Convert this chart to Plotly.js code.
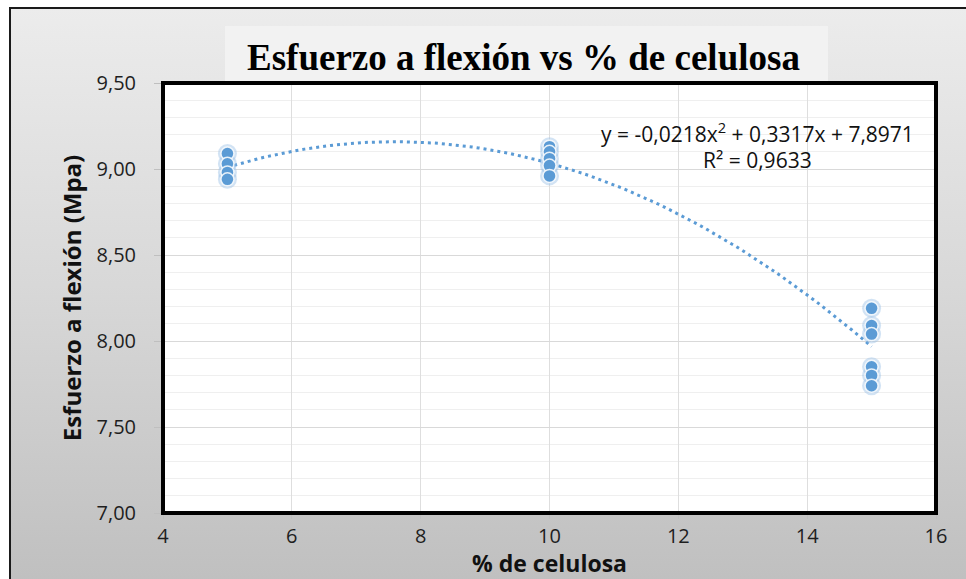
<!DOCTYPE html>
<html><head><meta charset="utf-8">
<script src="https://cdn.plot.ly/plotly-3.0.1.min.js"></script>
<style>
html,body{margin:0;padding:0;background:#fff;}
#wrap{position:relative;width:966px;height:579px;overflow:hidden;}
#bg{position:absolute;left:10px;top:8px;width:970px;height:580px;background:linear-gradient(to bottom,#ececec 0%,#d7d7d7 50%,#bfbfbf 100%);}
#chart{position:absolute;left:0;top:0;width:966px;height:579px;}
</style></head><body>
<div id="wrap"><div id="bg"></div><div id="chart"></div></div>
<script>
const celulosa = [5,5,5,5, 10,10,10,10,10, 15,15,15,15,15,15];
const esfuerzo = [9.09,9.03,8.98,8.94, 9.13,9.10,9.06,9.02,8.96, 8.19,8.09,8.04,7.85,7.80,7.74];
const trendCoef = [-0.0218, 0.3317, 7.8971];
const trendRange = [5, 15];
const xTicks = [4,6,8,10,12,14,16];
const titleText = 'Esfuerzo a flexión vs % de celulosa';
const xTitle = '% de celulosa';
const yTitle = 'Esfuerzo a flexión (Mpa)';
const eqLine1 = 'y = -0,0218x<sup>2</sup> + 0,3317x + 7,8971';
const eqLine2 = 'R² = 0,9633';

// trendline from the displayed polynomial coefficients
const tx = [], ty = [];
for (let i = 0; i <= 100; i++) {
  const x = trendRange[0] + (trendRange[1] - trendRange[0]) * i / 100;
  tx.push(x);
  ty.push(trendCoef[0]*x*x + trendCoef[1]*x + trendCoef[2]);
}

const L = 163, R = 30, T = 83, B = 66, W = 966, H = 579;
const pw = W - L - R, ph = H - T - B;
const px = v => (v - L) / pw;
const py = v => (H - B - v) / ph;

const data = [
  {x: tx, y: ty, mode: 'lines', line: {color: '#5b9bd5', width: 3, dash: '3px,4px'}, hoverinfo: 'skip', showlegend: false},
  {x: celulosa, y: esfuerzo, mode: 'markers', marker: {size: 19, color: 'rgba(155,194,230,0.45)', line: {width: 0}}, hoverinfo: 'skip', showlegend: false},
  {x: celulosa, y: esfuerzo, mode: 'markers', marker: {size: 13, color: '#5b9bd5', line: {color: 'rgba(255,255,255,0.85)', width: 1.5}}, showlegend: false}
];

const layout = {
  width: W, height: H,
  margin: {l: L, r: R, t: T, b: B},
  paper_bgcolor: 'rgba(0,0,0,0)',
  plot_bgcolor: '#ffffff',
  separators: ',.',
  showlegend: false,
  font: {family: 'Open Sans, sans-serif', color: '#262626'},
  xaxis: {
    range: [4, 16], tickvals: xTicks, showgrid: true, gridcolor: '#dedede', gridwidth: 1,
    zeroline: false, showline: false, ticks: 'outside', ticklen: 5, tickcolor: '#bfbfbf',
    tickfont: {family: 'Open Sans, sans-serif', size: 20, color: '#1e1e1e'},
    title: {text: xTitle, font: {family: 'Open Sans, sans-serif', size: 23, weight: 'bold', color: '#111'}, standoff: 3}
  },
  yaxis: {
    range: [7, 9.5], tick0: 7, dtick: 0.5, tickformat: '.2f', showgrid: true, gridcolor: '#d9d9d9',
    minor: {dtick: 0.1, showgrid: true, gridcolor: '#efefef', ticks: ''},
    zeroline: false, showline: false, ticks: 'outside', ticklen: 8, tickcolor: '#bfbfbf',
    ticklabelstandoff: 14,
    tickfont: {family: 'Open Sans, sans-serif', size: 20, color: '#1e1e1e'},
    title: {text: yTitle, font: {family: 'Open Sans, sans-serif', size: 24, weight: 'bold', color: '#111'}, standoff: 8}
  },
  shapes: [
    {type: 'rect', xref: 'paper', yref: 'paper', x0: px(225), x1: px(828), y0: py(83), y1: py(26), fillcolor: '#f2f2f2', line: {width: 0}, layer: 'below'},
    {type: 'rect', xref: 'paper', yref: 'paper', x0: 0, x1: 1, y0: 0, y1: 1, line: {color: '#000', width: 4}},
    {type: 'rect', xref: 'paper', yref: 'paper', x0: px(10), x1: px(990), y0: py(600), y1: py(8), line: {color: '#1a1a1a', width: 2}}
  ],
  annotations: [
    {text: '<b>' + titleText + '</b>', xref: 'paper', yref: 'paper', x: px(523), y: py(57), xanchor: 'center', yanchor: 'middle', showarrow: false,
     font: {family: 'Liberation Serif, Times New Roman, serif', size: 37, color: '#000'}},
    {text: eqLine1, xref: 'paper', yref: 'paper', x: px(757), y: py(132), xanchor: 'center', yanchor: 'middle', showarrow: false,
     font: {family: 'Open Sans, sans-serif', size: 21, color: '#111'}},
    {text: eqLine2, xref: 'paper', yref: 'paper', x: px(757), y: py(160), xanchor: 'center', yanchor: 'middle', showarrow: false,
     font: {family: 'Open Sans, sans-serif', size: 21, color: '#111'}}
  ]
};

Plotly.newPlot('chart', data, layout, {displayModeBar: false, staticPlot: true});
</script>
</body></html>
